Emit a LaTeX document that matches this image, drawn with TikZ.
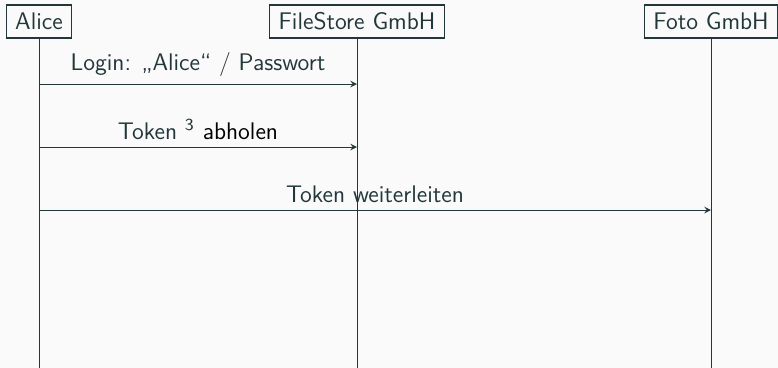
\documentclass[tikz,border=0pt]{standalone}
\usepackage{fontspec}
\usepackage{xcolor}
\usepackage{tikz}
\usetikzlibrary{arrows.meta,arrows,positioning}
\definecolor{darkteal}{HTML}{23373B}
\definecolor{slidebg}{HTML}{FAFAFA}
\tikzset{
  party/.style={draw=darkteal,semithick,inner xsep=4.1pt,inner ysep=3.8pt,
    text height=7.8pt,text depth=0pt},
  lifeline/.style={darkteal},
  every node/.style={font=\sffamily\fontsize{11.2}{13.5}\selectfont,text=darkteal}
}
\tikzstyle{msg} = [darkteal,->,>=stealth]

\begin{document}
\begin{tikzpicture}[x=0.466pt,y=-0.466pt]
  \fill[slidebg] (0,0) rectangle (778,368);
  \useasboundingbox (0,0) rectangle (778,368);

  % Parties
  \node[party] (alice) at (39,21.5) {Alice};
  \node[party] (store) at (357,21.5) {FileStore GmbH};
  \node[party] (foto)  at (711,21.5) {Foto GmbH};

  % Lifelines
  \coordinate (bottom) at (0,368);
  \draw[lifeline] (alice) -- (alice |- bottom);
  \draw[lifeline] (store) -- (store |- bottom);
  \draw[lifeline] (foto)  -- (foto |- bottom);

  % Messages
  \coordinate (m1) at (0,84);
  \coordinate (m2) at (0,147);
  \coordinate (m3) at (0,210);
  \draw[msg] (alice |- m1) -- node[above] {Login: „Alice“ / Passwort} (store |- m1);
  \draw[msg] (alice |- m2) -- node[above] {Token \textsuperscript{3} {\color{black}abholen}} (store |- m2);
  \draw[msg] (alice |- m3) -- node[above] {Token weiterleiten} (foto |- m3);
\end{tikzpicture}
\end{document}
